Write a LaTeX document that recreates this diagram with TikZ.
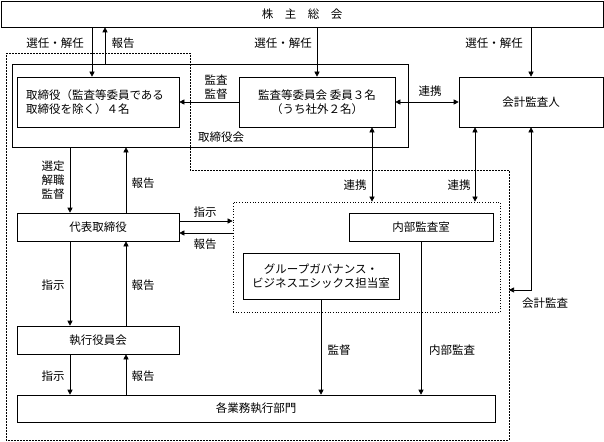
\documentclass[tikz,border=0pt]{standalone}
\usepackage{fontspec}
\setmainfont{Noto Sans CJK JP}
\usetikzlibrary{arrows.meta}
\tikzset{
  box/.style={draw,inner sep=0pt,align=center},
  lab/.style={inner sep=0pt,align=center},
  arr/.style={-{Triangle[length=5pt,width=5pt]}},
  darr/.style={{Triangle[length=5pt,width=5pt]}-{Triangle[length=5pt,width=5pt]}},
  outerline/.style={line width=0.8pt,dash pattern=on 1.6pt off 1.4pt},
  innerline/.style={draw,dotted,line width=0.7pt}
}
\begin{document}
\begin{tikzpicture}[x=1pt,y=-1pt,line width=0.6pt,font=\fontsize{11.5}{14}\selectfont]
\useasboundingbox (0,0) rectangle (604,441);
\node[box,minimum width=602pt,minimum height=26pt] (soukai) at (302,14) {株　主　総　会};
\node[box,minimum width=396pt,minimum height=83pt] (board) at (210,105.5) {};
\node[box,minimum width=162pt,minimum height=50pt,text width=144pt,align=left] (tori) at (98,102) {取締役（監査等委員である\\取締役を除く）４名};
\node[box,minimum width=156pt,minimum height=50pt] (kansa) at (317,102) {監査等委員会 委員３名\\（うち社外２名）};
\node[box,minimum width=144pt,minimum height=50pt] (kaikei) at (531,102) {会計監査人};
\node[box,minimum width=162pt,minimum height=28pt] (daihyo) at (98,227) {代表取締役};
\node[box,minimum width=162pt,minimum height=28pt] (shikko) at (98,340) {執行役員会};
\node[box,minimum width=478pt,minimum height=27pt] (kakugyomu) at (256,408.5) {各業務執行部門};
\node[innerline,minimum width=267pt,minimum height=110pt] (audit) at (366.5,257) {};
\node[box,minimum width=144pt,minimum height=28pt] (naibu) at (421,227) {内部監査室};
\node[box,minimum width=156pt,minimum height=46pt] (group) at (321,276) {グループガバナンス・\\ビジネスエシックス担当室};
\draw[outerline] (6,53) -- (190,53) -- (190,170) -- (509,170) -- (509,440) -- (6,440) -- cycle;
\coordinate (xa) at (92,0);
\coordinate (xb) at (105,0);
\coordinate (xl) at (70,0);
\coordinate (xr) at (126,0);
\coordinate (xc) at (372,0);
\coordinate (xd) at (475,0);
\coordinate (acct) at (509,290);
\coordinate (ya) at (0,221);
\coordinate (yb) at (0,233);
\draw[arr] (soukai.south -| xa) -- (tori.north -| xa);
\draw[arr] (board.north -| xb) -- (soukai.south -| xb);
\draw[arr] (soukai.south -| kansa.north) -- (kansa.north);
\draw[arr] (soukai.south -| kaikei.north) -- (kaikei.north);
\draw[arr] (kansa.west) -- (tori.east);
\draw[darr] (kansa.east) -- (kaikei.west);
\draw[darr] (kansa.south -| xc) -- (audit.north -| xc);
\draw[darr] (kaikei.south -| xd) -- (audit.north -| xd);
\draw[darr] (kaikei.south) |- (acct);
\draw[arr] (board.south -| xl) -- (daihyo.north -| xl);
\draw[arr] (daihyo.north -| xr) -- (board.south -| xr);
\draw[arr] (daihyo.east |- ya) -- (audit.west |- ya);
\draw[arr] (audit.west |- yb) -- (daihyo.east |- yb);
\draw[arr] (daihyo.south -| xl) -- (shikko.north -| xl);
\draw[arr] (shikko.north -| xr) -- (daihyo.south -| xr);
\draw[arr] (shikko.south -| xl) -- (kakugyomu.north -| xl);
\draw[arr] (kakugyomu.north -| xr) -- (shikko.south -| xr);
\draw[arr] (group.south) -- (kakugyomu.north -| group.south);
\draw[arr] (naibu.south) -- (kakugyomu.north -| naibu.south);
\node[lab] (l1) at (55,43) {選任・解任};
\node[lab] (l2) at (123,43) {報告};
\node[lab] (l3) at (283,43) {選任・解任};
\node[lab] (l4) at (494,43) {選任・解任};
\node[lab] (l5) at (216,87) {監査\\監督};
\node[lab] (l6) at (430,91) {連携};
\node[lab] (l7) at (221,137) {取締役会};
\node[lab] (l8) at (355,185) {連携};
\node[lab] (l9) at (459,185) {連携};
\node[lab] (l10) at (545,303) {会計監査};
\node[lab] (l11) at (53,180) {選定\\解職\\監督};
\node[lab] (l12) at (143,183) {報告};
\node[lab] (l13) at (205,212) {指示};
\node[lab] (l14) at (205,244) {報告};
\node[lab] (l15) at (53,285) {指示};
\node[lab] (l16) at (143,285) {報告};
\node[lab] (l17) at (53,376) {指示};
\node[lab] (l18) at (143,376) {報告};
\node[lab] (l19) at (339,350) {監督};
\node[lab] (l20) at (452,350) {内部監査};
\end{tikzpicture}
\end{document}
